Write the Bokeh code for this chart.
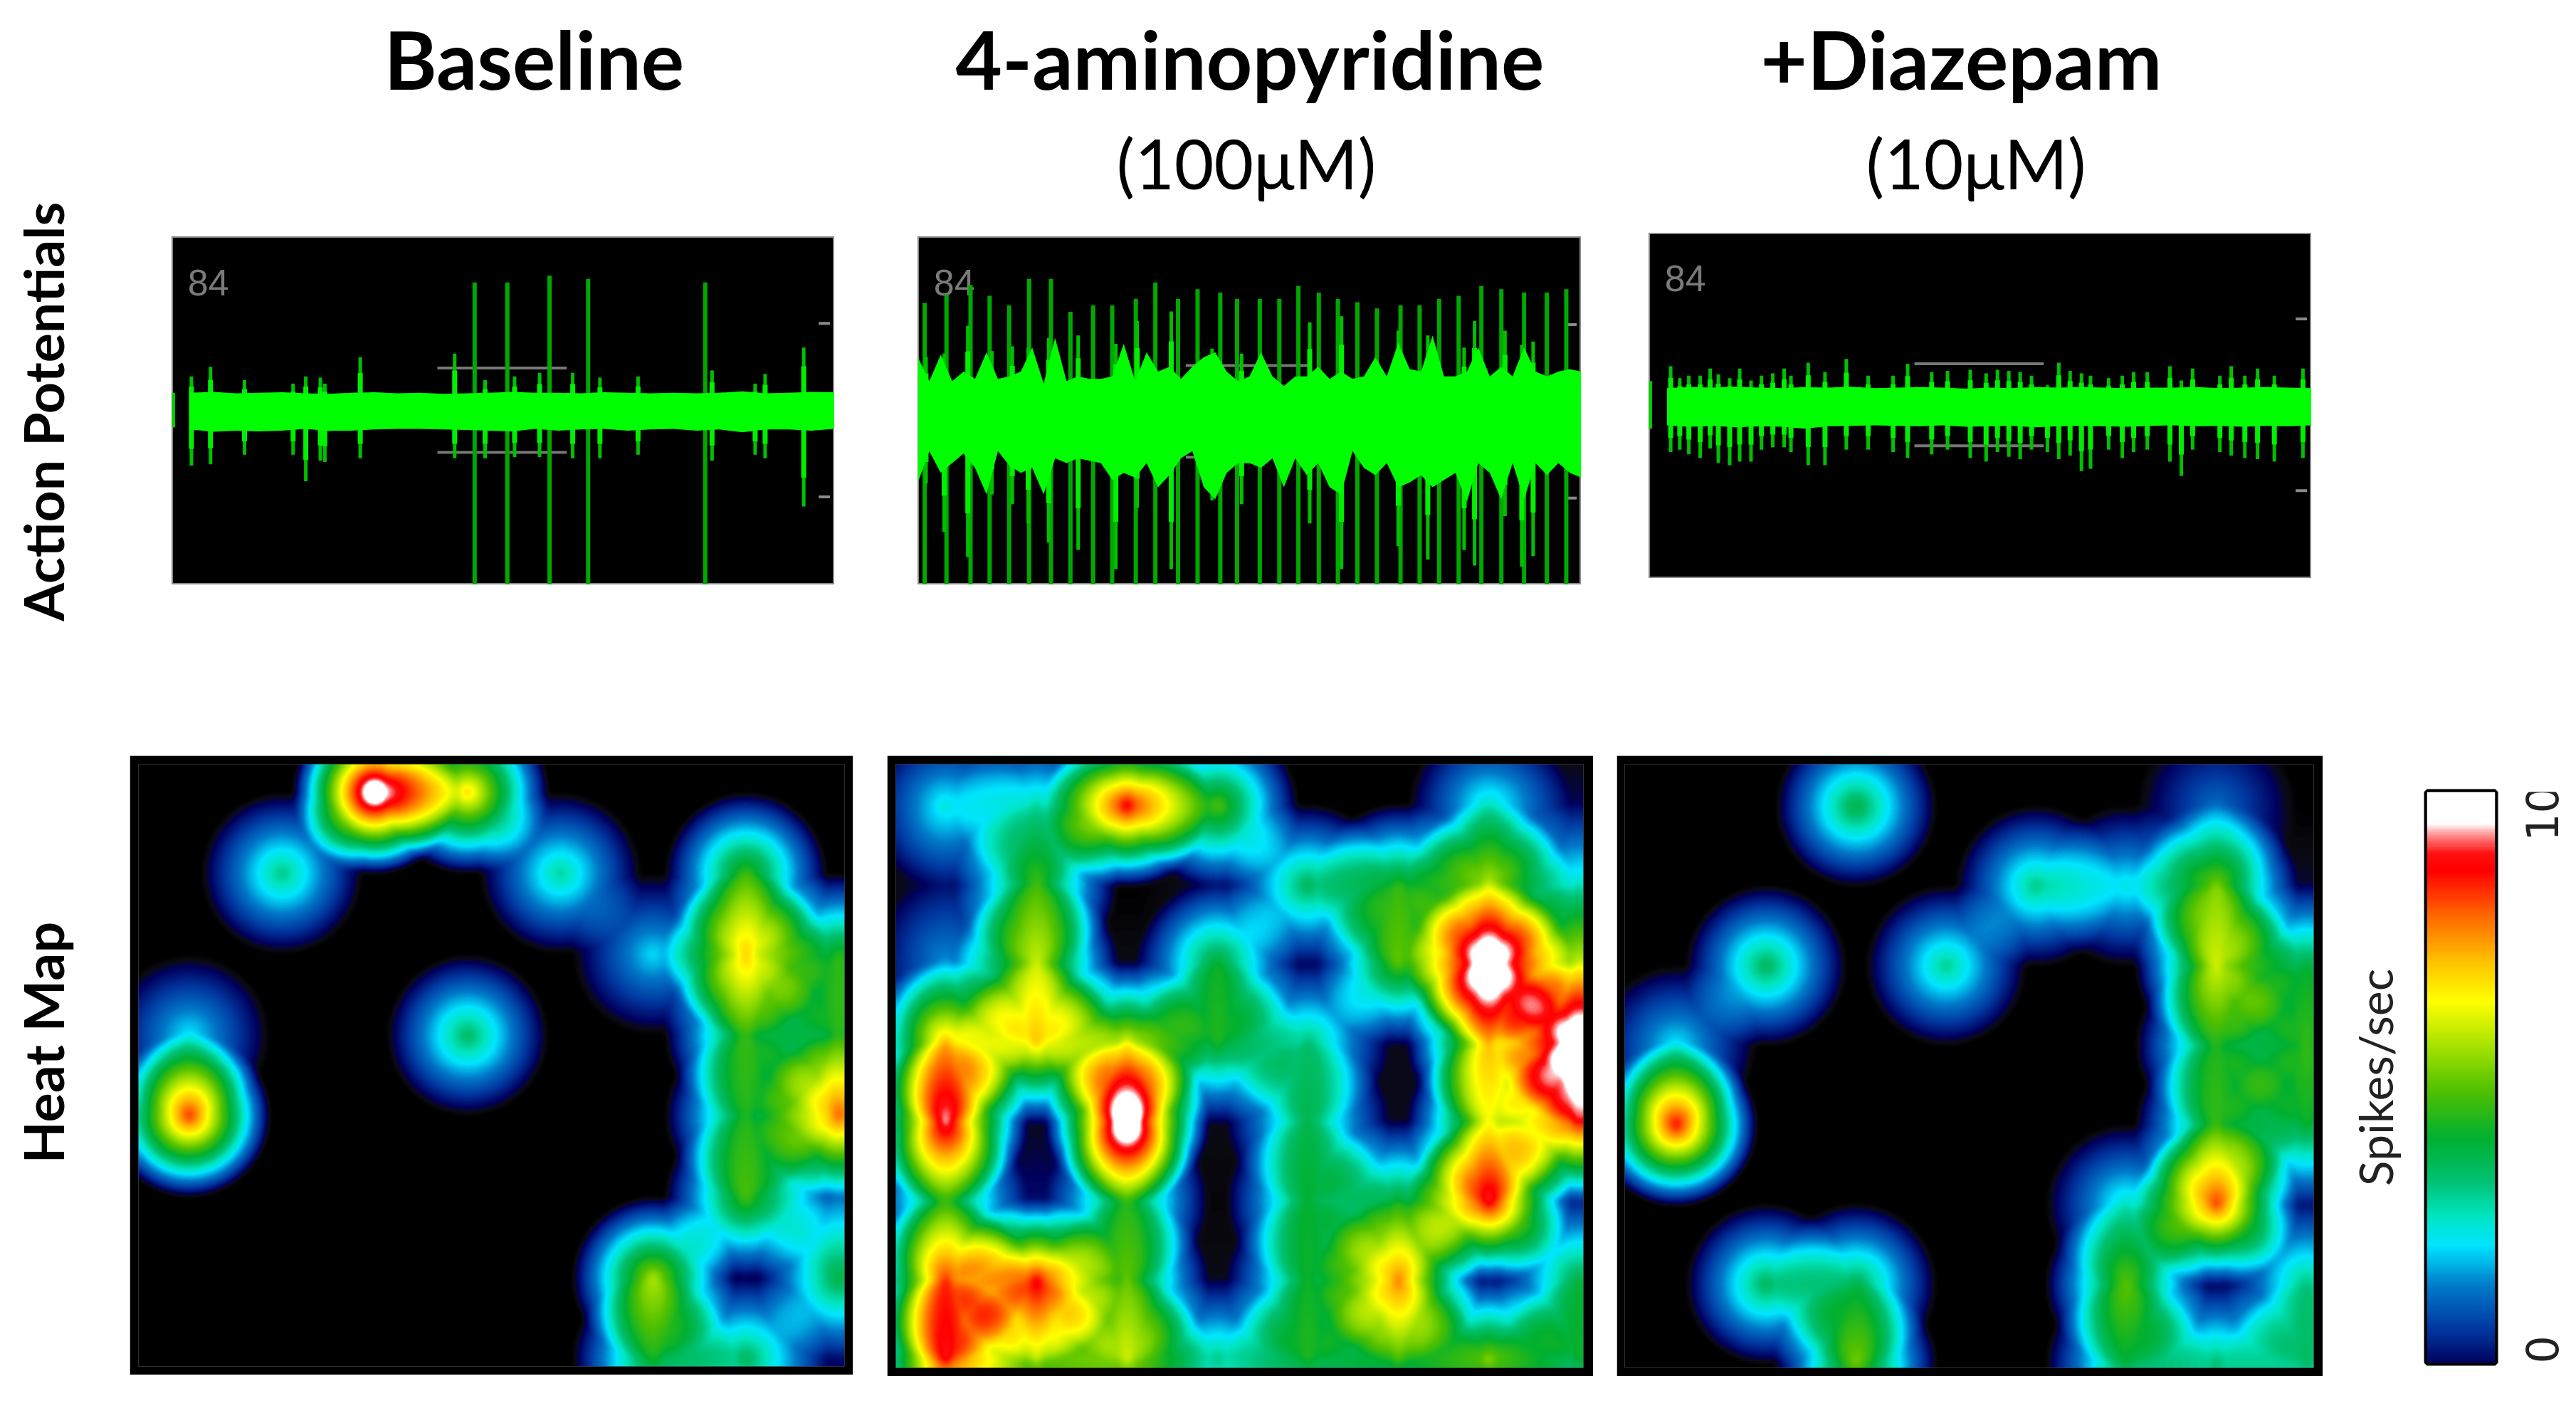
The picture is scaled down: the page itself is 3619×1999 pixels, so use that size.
import numpy as np
from bokeh.plotting import figure
from bokeh.layouts import column, row
from bokeh.models import Range1d, LinearColorMapper, LinearAxis, FixedTicker
from bokeh.core.properties import value
from bokeh.embed import file_html
from bokeh.resources import INLINE

# ---------- text ----------
titles = ["Baseline", "4-aminopyridine", "+Diazepam"]
subtitles = ["(100\u03bcM)", "(10\u03bcM)"]
row_labels = ["Action Potentials", "Heat Map"]
cbar_label = "Spikes/sec"
cbar_tick_values = [0, 10]
cbar_tick_labels = ["0", "10"]
channel_label = "84"

# ---------- firing rates per electrode (spikes/sec), 8 x 8 array, top row first ----------
rates_baseline = [
    [0.0, 0.0, 11.0, 7.0, 0.0, 0.0, 0.0, 0.0],
    [0.0, 3.4, 0.0, 0.0, 3.2, 0.0, 4.8, 0.0],
    [0.0, 0.0, 0.0, 0.0, 0.0, 2.4, 7.0, 4.6],
    [2.5, 0.0, 0.0, 3.7, 0.0, 0.0, 4.7, 4.6],
    [8.4, 0.0, 0.0, 0.0, 0.0, 0.0, 4.5, 8.0],
    [0.0, 0.0, 0.0, 0.0, 0.0, 0.0, 4.9, 1.6],
    [0.0, 0.0, 0.0, 0.0, 0.0, 5.8, 0.3, 4.0],
    [0.0, 0.0, 0.0, 0.0, 0.0, 4.4, 3.8, 0.5],
]
rates_4ap = [
    [2.7, 3.1, 9.0, 5.0, 0.0, 0.0, 2.9, 0.4],
    [0.5, 4.7, 0.0, 0.4, 3.8, 4.6, 5.8, 2.9],
    [1.9, 5.9, 0.2, 4.2, 0.3, 5.0, 11.0, 6.0],
    [7.2, 7.0, 6.3, 4.4, 3.5, 0.2, 7.0, 11.0],
    [9.2, 0.2, 11.0, 0.2, 3.8, 0.2, 6.2, 8.7],
    [4.4, 0.5, 4.4, 0.1, 4.1, 4.2, 9.0, 0.6],
    [8.2, 8.8, 5.0, 0.2, 4.2, 7.6, 0.4, 4.0],
    [8.7, 5.7, 6.0, 3.4, 4.4, 4.7, 5.5, 4.2],
]
rates_diazepam = [
    [0.0, 0.0, 4.0, 0.0, 0.0, 0.0, 1.6, 0.0],
    [0.0, 0.0, 0.0, 0.0, 3.4, 2.7, 5.3, 0.3],
    [0.0, 3.8, 0.0, 3.3, 0.0, 0.0, 6.0, 4.1],
    [2.5, 0.0, 0.0, 0.0, 0.0, 0.0, 4.4, 4.6],
    [8.7, 0.0, 0.0, 0.0, 0.0, 0.0, 4.6, 4.2],
    [0.0, 0.0, 0.0, 0.0, 0.0, 2.9, 8.2, 0.5],
    [0.0, 3.8, 3.9, 0.0, 0.0, 5.0, 0.3, 3.4],
    [0.0, 0.0, 5.2, 0.0, 0.0, 4.0, 3.6, 3.6],
]

# ---------- colour scale: (spikes/sec, colour) ----------
scale_values = [0.0, 0.18, 0.4, 1.0, 1.7, 2.4, 2.9, 3.5, 4.2, 5.0, 5.7, 6.5, 7.2, 8.0, 8.7, 9.0, 9.3, 9.5, 10.0]
scale_colors = ["#000000", "#0a0a14", "#00005f", "#0038a0", "#0078c8", "#00e5ff", "#00e5c0", "#00c070",
                "#00b030", "#50c000", "#a0e000", "#ffff00", "#ffc000", "#ff6000", "#ff0000", "#ff1010",
                "#ff9090", "#ffffff", "#ffffff"]

# ---------- recordings ----------
# large spikes: sweep position, upward and downward deflection
a_tall_t = [667, 739, 832, 917, 1175]
a_tall_up = [530, 530, 558, 545, 530]
a_tall_dn = [-725, -725, -725, -725, -725]
a_mid_t = [43, 85, 160, 267, 295, 327, 337, 415, 623, 690, 755, 810, 883, 943, 1027, 1190, 1285, 1307, 1392]
a_mid_up = [140, 180, 125, 110, 140, 135, 110, 220, 235, 125, 140, 155, 155, 135, 140, 165, 110, 150, 260]
a_mid_dn = [-230, -225, -185, -185, -295, -210, -215, -200, -200, -200, -195, -195, -200, -200, -185, -210, -185, -200, -400]
a_env_up = [72, 76, 70, 72, 74, 70, 68, 72, 74, 70, 72, 68, 70, 72, 76, 72, 72, 70, 74, 72, 70, 72, 70, 72, 78, 70, 72, 76, 74]
a_env_dn = [-80, -90, -85, -88, -85, -78, -86, -85, -80, -78, -78, -80, -82, -85, -88, -78, -85, -80, -78, -85, -80, -78, -85, -80, -92, -80, -80, -85, -78]

b_tall_t = [15, 63, 116, 158, 201, 245, 293, 336, 386, 428, 480, 523, 573, 616, 666, 703, 753, 796, 838, 883, 925, 968, 1011, 1063, 1105, 1148, 1191, 1241, 1285, 1335, 1385, 1428]
b_tall_up = [450, 485, 525, 480, 440, 550, 550, 413, 440, 440, 467, 535, 467, 507, 493, 467, 467, 467, 520, 493, 467, 453, 427, 440, 440, 467, 480, 520, 507, 493, 493, 507]
b_mid_t = [18, 58, 110, 163, 208, 243, 288, 353, 436, 483, 558, 648, 713, 863, 933, 1058, 1123, 1203, 1293, 1330, 1355, 1226]
b_mid_up = [225, 240, 355, 250, 270, 265, 305, 315, 280, 375, 415, 260, 240, 370, 395, 335, 315, 265, 335, 275, 290, 375]
b_mid_dn = [-300, -500, -605, -345, -385, -465, -545, -575, -655, -400, -655, -370, -385, -465, -655, -560, -615, -575, -435, -645, -600, -640]
b_env_up = [225, 125, 235, 125, 165, 135, 245, 135, 145, 165, 265, 115, 305, 125, 145, 135, 135, 145, 280, 125, 245, 165, 185, 135, 185, 225, 245, 165, 125, 145, 245, 145, 105, 145, 145, 185, 135, 165, 135, 145, 225, 145, 285, 175, 165, 315, 145, 145, 165, 265, 145, 185, 145, 265, 165, 145, 165, 175, 165]
b_env_dn = [-295, -165, -255, -215, -175, -235, -345, -165, -225, -255, -235, -345, -195, -215, -195, -205, -215, -285, -255, -275, -215, -315, -265, -195, -165, -315, -365, -255, -215, -215, -235, -195, -315, -195, -265, -215, -315, -345, -165, -235, -265, -215, -315, -295, -265, -315, -285, -255, -375, -215, -255, -365, -215, -365, -215, -265, -215, -255, -275]

c_mid_t = [48, 68, 88, 113, 135, 153, 178, 200, 225, 248, 273, 298, 313, 351, 388, 435, 483, 538, 570, 623, 658, 708, 743, 768, 793, 818, 843, 878, 903, 928, 953, 973, 1013, 1043, 1068, 1098, 1148, 1173, 1198, 1258, 1283, 1313, 1341, 1378, 1441]
c_mid_up = [162, 112, 122, 122, 152, 127, 112, 152, 102, 122, 132, 152, 122, 177, 137, 192, 122, 122, 172, 137, 142, 147, 132, 147, 142, 137, 122, 82, 177, 142, 132, 122, 112, 122, 137, 137, 162, 102, 152, 122, 162, 122, 152, 122, 152]
c_mid_dn = [-198, -188, -208, -223, -183, -243, -253, -238, -238, -188, -178, -178, -198, -253, -253, -188, -188, -198, -223, -208, -188, -223, -238, -198, -218, -228, -188, -198, -228, -213, -278, -268, -188, -223, -198, -188, -238, -298, -188, -198, -213, -223, -228, -238, -223]
c_env_up = [70, 74, 72, 76, 72, 70, 74, 72, 76, 70, 72, 74, 72, 68, 72, 70, 74, 72, 74, 72, 70, 72, 72, 74, 70, 72, 74, 72, 70]
c_env_dn = [-86, -92, -88, -94, -90, -92, -100, -90, -88, -86, -88, -90, -86, -92, -90, -88, -94, -90, -88, -90, -92, -88, -86, -90, -88, -92, -88, -90, -86]

# threshold bars and scale marks of the recording display
thr_t = [[585, 870], [590, 860], [585, 870]]
thr_lvl = [175, 190, 172]
mark_lvl = 360


def palette256():
    xs = np.linspace(0, 10, 256)
    rgb = np.array([[int(c[i:i + 2], 16) for i in (1, 3, 5)] for c in scale_colors], float)
    out = np.stack([np.interp(xs, scale_values, rgb[:, k]) for k in range(3)], axis=1).round().astype(int)
    return ["#%02x%02x%02x" % tuple(int(u) for u in v) for v in out]


mapper = LinearColorMapper(palette=palette256(), low=0, high=10)


def soften(Z, n=9, passes=2):
    # slight blur of the rendered map, as in the original display
    pad = n // 2
    for _ in range(passes):
        for flip in (False, True):
            A = Z.T if flip else Z
            P = np.pad(A, ((pad, pad), (0, 0)), mode="edge")
            c = np.cumsum(np.vstack([np.zeros((1, P.shape[1])), P]), axis=0)
            A = (c[n:] - c[:-n]) / n
            Z = A.T if flip else A
    return Z


def heat(rates, fig_w, fig_h, borders, col0, step_x, row0, step_y, mt, mr):
    L, R, T, B = borders
    fw, fh = fig_w - L - R, fig_h - T - B
    # frame extent expressed in electrode positions (layout of the array in this panel)
    xl, xr = float((L - col0) / step_x), float((L + fw - col0) / step_x)
    yt, yb = float((T - row0) / step_y), float((T + fh - row0) / step_y)
    p = figure(width=fig_w, height=fig_h, output_backend="svg", toolbar_location=None,
               x_range=Range1d(xl, xr), y_range=Range1d(-yb, -yt),
               min_border_left=L, min_border_right=R, min_border_top=T, min_border_bottom=B,
               border_fill_color="black", background_fill_color="black", outline_line_color=None,
               x_axis_location=None, y_axis_location=None, margin=(mt, mr, 0, 0))
    p.grid.visible = False
    xx = np.linspace(xl, xr, fw)
    yy = -np.linspace(-yb, -yt, fh)
    X, Y = np.meshgrid(xx, yy)
    Z = np.zeros_like(X)
    arr = np.array(rates, float)
    for r in range(8):
        for c in range(8):
            if arr[r, c] > 0:
                d = np.sqrt(((X - c) * step_x) ** 2 + ((Y - r) * step_y) ** 2)
                Z += arr[r, c] * np.clip(1 - d / 115.0, 0, 1)
    Z = soften(Z)
    p.image(image=[Z.astype("float32")], x=xl, y=-yb, dw=xr - xl, dh=yb - yt, color_mapper=mapper)
    return p


def trace(t_hi, env_up, env_dn, tall=None, mid=None, stub=None, width=931, height=489, y_top=720, y_bot=-725,
          env_start=40, thr=0, mt=0, mr=0):
    p = figure(width=width, height=height, output_backend="svg", toolbar_location=None,
               x_range=Range1d(0, t_hi), y_range=Range1d(y_bot, y_top),
               min_border=0, background_fill_color="black", border_fill_color="white",
               outline_line_color="#8a8a8a", outline_line_width=3,
               x_axis_location=None, y_axis_location=None, margin=(mt, mr, 0, 0))
    p.grid.visible = False
    # display furniture
    p.text(x=[35], y=[y_top - 190], text=[channel_label], text_color="#7a7a7a",
           text_font=value("Liberation Sans"), text_font_size="52px", text_baseline="middle", text_align="left")
    p.segment(x0=[thr_t[thr][0]] * 2, x1=[thr_t[thr][1]] * 2, y0=[thr_lvl[thr], -thr_lvl[thr]],
              y1=[thr_lvl[thr], -thr_lvl[thr]], line_color="#777777", line_width=4)
    p.segment(x0=[t_hi - 35] * 2, x1=[t_hi - 10] * 2, y0=[mark_lvl, -mark_lvl], y1=[mark_lvl, -mark_lvl],
              line_color="#8a8a8a", line_width=4)
    ts = np.linspace(env_start, t_hi, len(env_up))
    if tall:
        p.segment(x0=tall[0], x1=tall[0], y0=tall[2], y1=tall[1], line_color="#00a800", line_width=6)
    if mid:
        p.segment(x0=mid[0], x1=mid[0], y0=mid[2], y1=mid[1], line_color="#00c000", line_width=5)
        p.segment(x0=mid[0], x1=mid[0], y0=np.array(mid[2]) * 0.7, y1=np.array(mid[1]) * 0.7,
                  line_color="#00f000", line_width=7)
    p.varea(x=ts, y1=env_dn, y2=env_up, fill_color="#00ff00")
    if stub:
        p.segment(x0=[3], x1=[3], y0=[-stub], y1=[stub], line_color="#00d000", line_width=5)
    return p


LATO = value("Lato")

# ---------- titles (page coordinates) ----------
title_fig = figure(width=3362, height=324, output_backend="svg", toolbar_location=None,
                   x_range=Range1d(249, 3611), y_range=Range1d(332, 8), min_border=0,
                   outline_line_color=None, x_axis_location=None, y_axis_location=None)
title_fig.grid.visible = False
for txt, xp in zip(titles, [547, 1350, 2481]):
    title_fig.text(x=[xp], y=[157], text=[txt], text_font=LATO, text_font_style="bold",
                   text_font_size="113px", text_color="#000000")
for txt, xp in zip(subtitles, [1576, 2629]):
    title_fig.text(x=[xp], y=[293], text=[txt], text_font=LATO, text_font_size="96px", text_color="#000000")


def side_label(txt, w, h, ystart, top_page, size):
    p = figure(width=w, height=h, output_backend="svg", toolbar_location=None,
               x_range=Range1d(8, 8 + w), y_range=Range1d(top_page + h, top_page), min_border=0,
               outline_line_color=None, x_axis_location=None, y_axis_location=None)
    p.grid.visible = False
    p.text(x=[113], y=[ystart], text=[txt], angle=float(np.pi / 2), text_font=LATO, text_font_style="bold",
           text_font_size=size, text_color="#000000")
    return p


# ---------- rows ----------
lab_top = side_label(row_labels[0], 241, 1061, 880, 8, "77px")
tr_a = trace(1460, a_env_up, a_env_dn, tall=(a_tall_t, a_tall_up, a_tall_dn), mid=(a_mid_t, a_mid_up, a_mid_dn),
             stub=72, width=931, height=489, y_top=720, y_bot=-725, mt=8, mr=117, thr=0)
tr_b = trace(1461, b_env_up, b_env_dn, tall=(b_tall_t, b_tall_up, [-720] * len(b_tall_t)),
             mid=(b_mid_t, b_mid_up, b_mid_dn), width=932, height=489, y_top=725, y_bot=-720, env_start=0,
             mt=8, mr=95, thr=1)
tr_c = trace(1460, c_env_up, c_env_dn, mid=(c_mid_t, c_mid_up, c_mid_dn), stub=100, width=931, height=485,
             y_top=720, y_bot=-728, mt=3, thr=2)
upper = row(lab_top, column(title_fig, row(tr_a, tr_b, tr_c, spacing=0), spacing=0), spacing=0)

lab_bot = side_label(row_labels[1], 182, 870, 1646, 1069, "77px")
hm_a = heat(rates_baseline, 1016, 870, (12, 12, 11, 12), 83, 130.5, 50, 114, 0, 48)
hm_b = heat(rates_4ap, 992, 872, (12, 14, 11, 12), 82, 127.3, 68.5, 111.5, 0, 33)
hm_c = heat(rates_diazepam, 992, 872, (11, 13, 12, 12), 83, 126.6, 71, 112, 0, 0)

# colour bar and its tick texts, on one shared value scale
bar_lo, bar_hi = -0.25, 10.40
cb = figure(width=249, height=826, output_backend="svg", toolbar_location=None,
            x_range=Range1d(0, 1), y_range=Range1d(bar_lo, bar_hi),
            min_border_left=146, min_border_right=7, min_border_top=4, min_border_bottom=4,
            outline_line_color="black", outline_line_width=8, background_fill_color="white",
            x_axis_location=None, y_axis_location=None, margin=(39, 0, 0, 0))
cb.grid.visible = False
cb.image(image=[np.linspace(0.45, 10, 512, dtype="float32").reshape(512, 1)], x=0, y=bar_lo, dw=1,
         dh=bar_hi - bar_lo, color_mapper=mapper)
ax_l = LinearAxis(ticker=FixedTicker(ticks=[-100]), axis_label=cbar_label, axis_label_standoff=34,
                  axis_label_text_font="Lato", axis_label_text_font_style="normal",
                  axis_label_text_font_size="66px", axis_label_text_color="#222222",
                  major_tick_line_color=None, minor_tick_line_color=None, axis_line_color=None,
                  major_label_text_color=None)
cb.add_layout(ax_l, "left")

tk = figure(width=91, height=826, output_backend="svg", toolbar_location=None,
            x_range=Range1d(0, 91), y_range=Range1d(bar_lo, bar_hi),
            min_border_left=0, min_border_right=0, min_border_top=4, min_border_bottom=4,
            outline_line_color=None, x_axis_location=None, y_axis_location=None, margin=(39, 0, 0, 0))
tk.grid.visible = False
tk.text(x=[58, 58], y=cbar_tick_values, text=cbar_tick_labels, angle=float(np.pi / 2), text_align="center",
        text_baseline="middle", text_font=value("DejaVu Sans"), text_font_size="62px", text_color="#222222")

lower = row(lab_bot, hm_a, hm_b, hm_c, cb, tk, spacing=0)
page = column(upper, lower, spacing=0)

open("out.html", "w").write(file_html(page, INLINE))
